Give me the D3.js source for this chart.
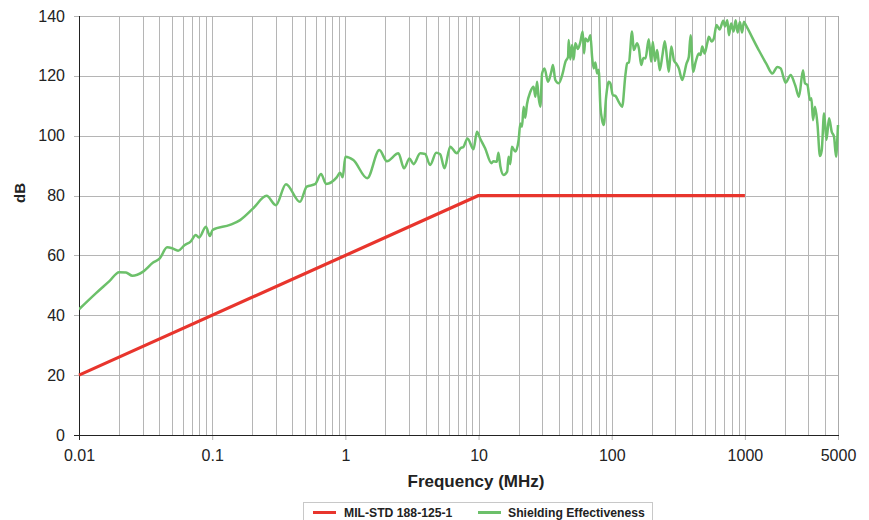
<!DOCTYPE html>
<html>
<head>
<meta charset="utf-8">
<script src="https://cdn.jsdelivr.net/npm/d3@7"></script>
<style>
  html, body { margin: 0; padding: 0; background: #fff; }
  svg { display: block; }
</style>
</head>
<body>
<svg id="chart" width="869" height="520"></svg>
<script>
// ---- Data ----
const milFreq = [0.01, 10, 1000];
const milDb   = [20, 80, 80];

const seFreq = [0.01,0.0135,0.017,0.02,0.0225,0.0252,0.0303,0.036,0.0404,0.0459,0.05,0.0555,0.0623,0.0688,0.0754,0.0799,0.0897,0.0961,0.1007,0.136,0.162,0.203,0.256,0.301,0.358,0.456,0.513,0.592,0.657,0.716,0.861,0.912,0.955,1.0,1.148,1.46,1.80,2.05,2.50,2.76,3.03,3.25,3.65,3.97,4.33,4.81,5.15,5.55,6.12,6.88,7.3,7.71,8.26,9.16,9.73,10.3,11.2,12.5,12.9,13.7,14.1,14.6,15.4,16.4,16.8,17.3,17.8,18.9,20.0,20.6,21.2,21.8,22.4,23.1,24.5,25.9,26.7,27.5,28.2,29.1,30.0,31.3,33.2,35.2,36.2,37.7,40.0,42.8,44.9,47.0,47.5,48.9,50.4,51.8,53.3,55.7,58.2,60.5,62.0,63.4,66.2,69.2,71.2,73.3,75.4,77.6,79.8,82.2,84.7,87.1,90.8,94.9,97.7,101.8,106.6,112.3,119.7,126.7,130.6,134.6,142.2,146.3,155.2,160.2,166.4,173.1,179.2,189.7,197.7,203.3,211.2,219.3,229.4,240.5,250.3,261.0,268.4,279.9,293.8,306.4,319.0,338.2,364.6,379.3,390.8,409.4,425.9,450.8,464.3,478.2,497.7,521.2,535.8,561.8,584.4,612.2,645.3,688.3,710.3,737.8,758.6,787.6,822.4,851.5,881.4,916.6,952.6,982.6,1000,1250,1450,1607,1753,1855,2022,2206,2336,2403,2547,2729,2826,2944,3080,3160,3246,3360,3502,3663,3773,3930,4096,4283,4488,4668,4832,4951,5000];
const seDb = [42,47.5,51.5,54.4,54.3,53.2,54.6,57.6,59.0,62.7,62.4,61.6,63.5,64.6,66.8,66.0,69.6,66.5,68.5,70.2,71.8,75.7,79.9,76.8,83.8,77.9,83.0,83.8,87.2,83.9,86.1,87.6,86.1,93.0,91.9,85.8,95.2,91.5,94.1,89.1,92.4,90.5,94.1,93.9,90.2,94.3,93.8,89.1,96.3,94.1,95.8,96.3,99.1,95.5,101.3,99,95.8,90.8,91.5,91.3,94.3,89.6,86.9,88.0,93.0,90.5,96.3,94.7,98.6,104.1,103,109.7,106,110.5,114.7,116.4,113,118.0,113.0,109.7,120.8,122.5,118.0,121.4,123.6,118.6,117.5,120.8,124.7,126.4,132.0,125.5,130.3,125.5,130.9,129,131.4,134.8,127.5,132.5,131.5,133.6,126.4,122.5,124.5,120.8,122,109.7,105.2,103.6,113.0,118.0,117.5,113.6,113.3,111.5,109.7,120.3,124.2,124.5,134.8,128.6,130.9,129,123.6,126,125.8,132.2,124.7,131.4,125,128.6,121.9,127,131.6,125.3,121.4,129.8,125,124,122.5,118.6,124.2,126.4,133.6,121.4,124.5,127.5,127,129.8,127.5,130.9,133.1,131.5,132.5,137.0,135.5,138.4,136.5,138.6,133.6,137.5,134.8,138.6,134.5,138,134.5,138.1,137.5,129.2,124.0,120.8,123.0,122.5,117.7,120.3,118,116.4,113.0,121.9,117.5,117,111.9,112.5,105.2,109.7,104,93.2,95,107.5,98.6,105.8,101.3,99.7,93.0,99.7,103.6];

const xTicks = [0.01, 0.1, 1, 10, 100, 1000, 5000];
const xTickLabels = ["0.01", "0.1", "1", "10", "100", "1000", "5000"];
const yTicks = [0, 20, 40, 60, 80, 100, 120, 140];
const seriesNames = ["MIL-STD 188-125-1", "Shielding Effectiveness"];
const xTitle = "Frequency (MHz)";
const yTitle = "dB";

// ---- Layout ----
const W = 869, H = 520;
const m = { left: 79, top: 16, right: 838, bottom: 435 };
const colors = { mil: "#e8352d", se: "#6cc06a", grid: "#b5b5b5", axis: "#222", text: "#222" };

const svg = d3.select("#chart");
const x = d3.scaleLog().domain([0.01, 5000]).range([m.left, m.right]);
const y = d3.scaleLinear().domain([0, 140]).range([m.bottom, m.top]);

// minor grid positions (2..9 per decade)
const minor = [];
[0.01, 0.1, 1, 10, 100, 1000].forEach(d => {
  for (let k = 2; k <= 9; k++) { const v = d * k; if (v <= 5000) minor.push(v); }
});
const gridX = [0.01, 0.1, 1, 10, 100, 1000].concat(minor);

const grid = svg.append("g").attr("shape-rendering", "crispEdges");
grid.selectAll("line.vx").data(gridX).join("line")
  .attr("class", "vx")
  .attr("x1", d => Math.round(x(d)) + 0.5).attr("x2", d => Math.round(x(d)) + 0.5)
  .attr("y1", m.top).attr("y2", m.bottom)
  .attr("stroke", colors.grid).attr("stroke-width", 1);
grid.selectAll("line.hy").data(yTicks.filter(d => d > 0)).join("line")
  .attr("class", "hy")
  .attr("x1", m.left - 5).attr("x2", m.right)
  .attr("y1", d => Math.round(y(d)) + 0.5).attr("y2", d => Math.round(y(d)) + 0.5)
  .attr("stroke", colors.grid).attr("stroke-width", 1);

// x axis (ticks below)
const xAxis = d3.axisBottom(x).tickValues(xTicks)
  .tickFormat((d, i) => xTickLabels[i]).tickSize(5).tickPadding(10);
const gx = svg.append("g").attr("transform", `translate(0,${m.bottom})`).call(xAxis);
gx.select(".domain").remove();
gx.selectAll(".tick line").attr("stroke", colors.grid);
gx.selectAll(".tick text").attr("fill", colors.text)
  .style("font-family", "'Liberation Sans', Arial, sans-serif").style("font-size", "16px");

// y axis labels
const yAxis = d3.axisLeft(y).tickValues(yTicks).tickSize(0).tickPadding(14);
const gy = svg.append("g").attr("transform", `translate(${m.left},0)`).call(yAxis);
gy.select(".domain").remove();
gy.selectAll(".tick text").attr("fill", colors.text)
  .style("font-family", "'Liberation Sans', Arial, sans-serif").style("font-size", "16px");

// axis lines
svg.append("line").attr("x1", m.left - 5).attr("x2", m.right + 0.5)
  .attr("y1", m.bottom + 0.5).attr("y2", m.bottom + 0.5)
  .attr("stroke", colors.axis).attr("stroke-width", 1.3).attr("shape-rendering", "crispEdges");
svg.append("line").attr("x1", m.left + 0.5).attr("x2", m.left + 0.5)
  .attr("y1", m.top).attr("y2", m.bottom + 5)
  .attr("stroke", colors.axis).attr("stroke-width", 1.3).attr("shape-rendering", "crispEdges");
// right border at 5000
svg.append("line").attr("x1", Math.round(x(5000)) + 0.5).attr("x2", Math.round(x(5000)) + 0.5)
  .attr("y1", m.top).attr("y2", m.bottom)
  .attr("stroke", "#aaa").attr("stroke-width", 1).attr("shape-rendering", "crispEdges");

// lines
svg.append("clipPath").attr("id", "clip").append("rect")
  .attr("x", m.left).attr("y", m.top - 3).attr("width", m.right - m.left + 2).attr("height", m.bottom - m.top + 3);

const milData = milFreq.map((f, i) => [f, milDb[i]]);
const seData = seFreq.map((f, i) => [f, seDb[i]]);

svg.append("path").datum(milData)
  .attr("d", d3.line().x(d => x(d[0])).y(d => y(d[1])).curve(d3.curveLinear))
  .attr("fill", "none").attr("stroke", colors.mil).attr("stroke-width", 3.2)
  .attr("stroke-linejoin", "round");

svg.append("path").datum(seData)
  .attr("clip-path", "url(#clip)")
  .attr("d", d3.line().x(d => x(d[0])).y(d => y(d[1])).curve(d3.curveMonotoneX))
  .attr("fill", "none").attr("stroke", colors.se).attr("stroke-width", 2.5)
  .attr("stroke-linejoin", "round");

// titles
svg.append("text").attr("x", 476).attr("y", 487).attr("text-anchor", "middle")
  .attr("fill", colors.text)
  .style("font-family", "'Liberation Sans', Arial, sans-serif").style("font-size", "17px").style("font-weight", "bold")
  .text(xTitle);
svg.append("text").attr("transform", "translate(25,193) rotate(-90)").attr("text-anchor", "middle")
  .attr("fill", colors.text)
  .style("font-family", "'Liberation Sans', Arial, sans-serif").style("font-size", "15px").style("font-weight", "bold")
  .text(yTitle);

// legend
const lg = svg.append("g");
lg.append("rect").attr("x", 303.5).attr("y", 502.5).attr("width", 349).attr("height", 30)
  .attr("fill", "#fff").attr("stroke", "#c8c8c8").attr("stroke-width", 1);
const legendItems = [
  { name: seriesNames[0], color: colors.mil, lx: 313, tx: 344 },
  { name: seriesNames[1], color: colors.se, lx: 478, tx: 508 }
];
legendItems.forEach(it => {
  lg.append("line").attr("x1", it.lx).attr("x2", it.lx + 23).attr("y1", 512.5).attr("y2", 512.5)
    .attr("stroke", it.color).attr("stroke-width", 3);
  lg.append("text").attr("x", it.tx).attr("y", 517).attr("fill", colors.text)
    .style("font-family", "'Liberation Sans', Arial, sans-serif").style("font-size", "12.2px").style("font-weight", "bold")
    .text(it.name);
});
</script>
</body>
</html>
